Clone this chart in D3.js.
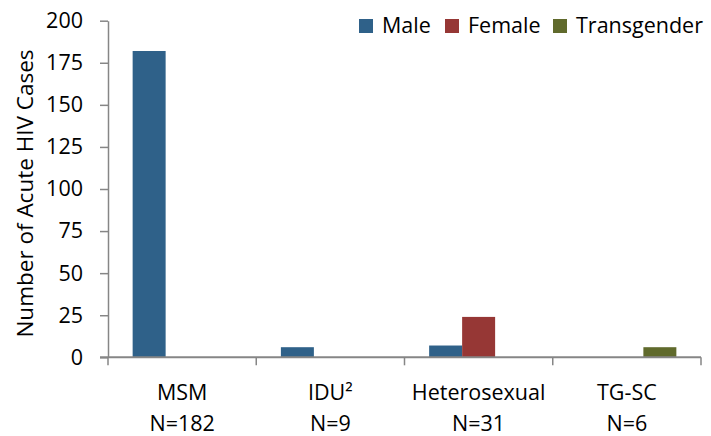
<!DOCTYPE html>
<html><head><meta charset="utf-8">
<script src="https://cdn.jsdelivr.net/npm/d3@7"></script>
<style>body{margin:0;background:#fff}svg{display:block}text{font-family:"Open Sans",sans-serif;fill:#000}</style>
</head><body><svg id="c" width="711" height="436"></svg>
<script>
const categories = ["MSM", "IDU²", "Heterosexual", "TG-SC"];
const categorySubLabels = ["N=182", "N=9", "N=31", "N=6"];
const seriesNames = ["Male", "Female", "Transgender"];
const male = [182, 6, 7, 0];
const female = [0, 0, 24, 0];
const transgender = [0, 0, 0, 6];
const yTicks = [0, 25, 50, 75, 100, 125, 150, 175, 200];
const colors = ["#2F6189", "#963735", "#606A2C"];

const svg = d3.select("#c");
const m = {l:108, r:701, t:20.7, b:357.3};
const x0 = d3.scaleBand().domain(categories).range([m.l, m.r]).paddingInner(0).paddingOuter(0);
const x1 = d3.scaleBand().domain(seriesNames).range([0, x0.bandwidth()]).paddingInner(0).paddingOuter(0.747);
const y = d3.scaleLinear().domain([0, 200]).range([m.b, m.t]);
const series = [male, female, transgender];
const axisColor = "#868686";
const fs = 21.5;

// bars
categories.forEach((c, i) => {
  series.forEach((s, j) => {
    const v = s[i];
    if (!v) return;
    svg.append("rect")
      .attr("x", x0(c) + x1(seriesNames[j]))
      .attr("y", y(v))
      .attr("width", x1.bandwidth())
      .attr("height", y(0) - y(v))
      .attr("fill", colors[j]);
  });
});

// y axis
const ya = svg.append("g").attr("transform", `translate(${m.l},0)`)
  .call(d3.axisLeft(y).tickValues(yTicks).tickSize(8).tickPadding(17).tickSizeOuter(0));
ya.select(".domain").attr("stroke", axisColor).attr("stroke-width", 1.5);
ya.selectAll(".tick line").attr("stroke", axisColor).attr("stroke-width", 1.5);
ya.selectAll(".tick text").attr("font-size", fs).attr("font-family", "'Open Sans', sans-serif").attr("fill", "#000");

// x axis
const xa = svg.append("g").attr("transform", `translate(0,${m.b})`);
xa.append("line").attr("x1", m.l - 8).attr("x2", m.r).attr("y1", 0).attr("y2", 0)
  .attr("stroke", axisColor).attr("stroke-width", 2);
const bounds = categories.map(c => x0(c)).concat([x0(categories[categories.length-1]) + x0.bandwidth()]);
bounds.forEach(b => xa.append("line").attr("x1", b).attr("x2", b).attr("y1", 0).attr("y2", 8)
  .attr("stroke", axisColor).attr("stroke-width", 1.5));
categories.forEach((c, i) => {
  const cx = x0(c) + x0.bandwidth()/2;
  xa.append("text").attr("x", cx).attr("y", 43).attr("text-anchor", "middle").attr("font-size", fs).text(c);
  xa.append("text").attr("x", cx).attr("y", 74).attr("text-anchor", "middle").attr("font-size", fs).text(categorySubLabels[i]);
});

// y title
svg.append("text").attr("transform", "translate(33,193.5) rotate(-90)")
  .attr("text-anchor", "middle").attr("font-size", 22.5).text("Number of Acute HIV Cases");

// legend
const legX = [359, 445, 553];
seriesNames.forEach((n, j) => {
  svg.append("rect").attr("x", legX[j]).attr("y", 19).attr("width", 14).attr("height", 14).attr("fill", colors[j]);
  svg.append("text").attr("x", legX[j] + 23).attr("y", 33).attr("font-size", fs).text(n);
});
</script></body></html>
